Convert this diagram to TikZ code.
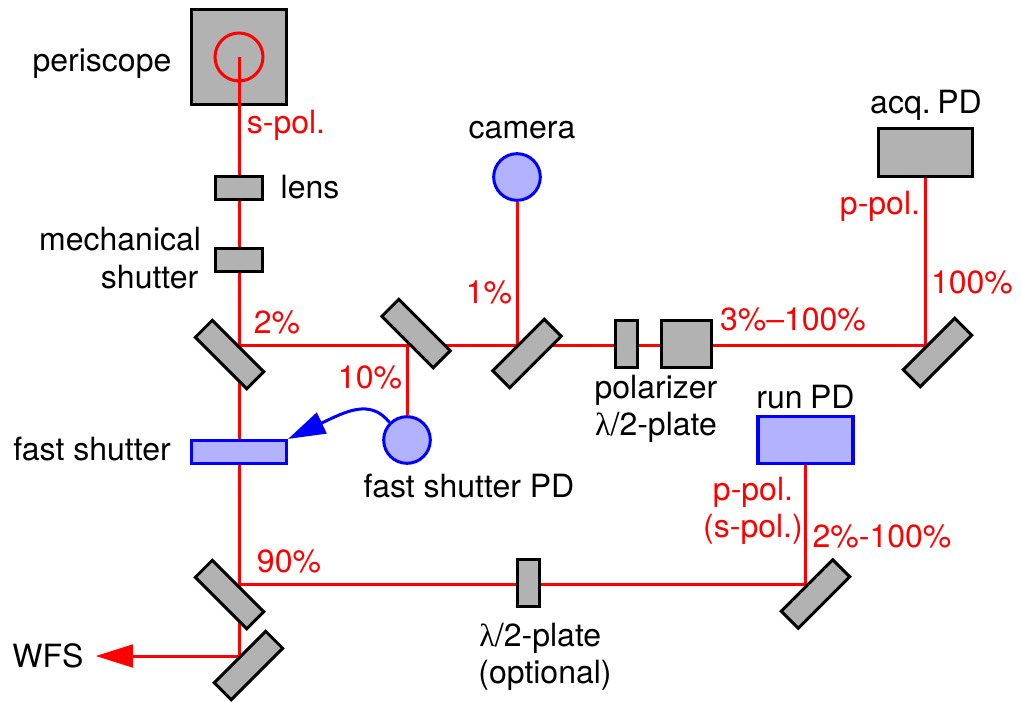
\documentclass[tikz,border=0pt]{standalone}
\usepackage{fontspec}
\setmainfont{TeX Gyre Heros}
\newfontfamily\lambdafont{Liberation Serif}
\usetikzlibrary{positioning,arrows.meta,backgrounds}

\definecolor{opticgray}{HTML}{B2B2B2}
\definecolor{pdblue}{HTML}{B2B2FF}
\newcommand{\halfwave}{{\lambdafont λ}/2-plate}

\begin{document}
\begin{tikzpicture}[
    x=0.75pt,
    y=-0.75pt,
    line width=2.25pt,
    optic/.style={
        draw=black,
        fill=opticgray,
        rectangle,
        inner sep=0pt
    },
    mirrordown/.style={optic, minimum width=54.5pt, minimum height=18pt, rotate=-45},
    mirrorup/.style={optic, minimum width=54.5pt, minimum height=18pt, rotate=45},
    smallplate/.style={optic, minimum width=35.5pt, minimum height=17pt},
    waveplate/.style={optic, minimum width=16.5pt, minimum height=35.5pt},
    bigbox/.style={optic, minimum width=71pt, minimum height=35.5pt},
    activebox/.style={
        draw=blue,
        fill=pdblue,
        rectangle,
        line width=2.6pt,
        inner sep=0pt
    },
    activedisc/.style={
        activebox,
        circle,
        line width=2.25pt,
        minimum size=35pt
    },
    beam/.style={draw=red, line width=2.25pt},
    beamarrow/.style={beam, -{Triangle[length=28pt, width=17pt]}},
    lbl/.style={
        align=center,
        inner sep=0pt,
        font=\fontsize{24}{28}\selectfont
    },
    pct/.style={lbl, text=red}
]

\node (periscope) [optic, minimum size=71pt] at (239,57) {};
\node (lens) [smallplate] at (239,188) {};
\node (mechshutter) [smallplate] at (239,260) {};
\node (mirrorone) [mirrordown] at (229.5,354.5) {};
\node (mirrortwo) [mirrordown] at (416,333.5) {};
\node (mirrorthree) [mirrorup] at (527,353.5) {};
\node (halfplate) [waveplate] at (626.5,344) {};
\node (polarizer) [optic, minimum width=37pt, minimum height=35.5pt] at (686.5,344) {};
\node (mirrorfour) [mirrorup] at (937.5,352.5) {};
\node (acqpd) [bigbox] at (925.5,152.5) {};
\node (camera) [activedisc] at (517,177) {};
\node (fastshutter) [activebox, minimum width=71pt, minimum height=17pt] at (239,452) {};
\node (fastpd) [activedisc] at (407,440) {};
\node (runpd) [activebox, minimum width=71pt, minimum height=35.5pt] at (805.5,440) {};
\node (mirrorfive) [mirrordown] at (229.5,594.5) {};
\node (mirrorsix) [mirrorup] at (248.5,665.5) {};
\node (mirrorseven) [mirrorup] at (815.5,594) {};
\node (bottomplate) [waveplate] at (528.5,583) {};

\coordinate (hitone) at (239,345);
\coordinate (hittwo) at (407,345);
\coordinate (hitthree) at (517,345);
\coordinate (hitfour) at (925.5,345);
\coordinate (hitfive) at (239,584);
\coordinate (hitsix) at (239,656);
\coordinate (hitseven) at (805.5,584);

\node (periscopelabel) [lbl] at (102,64) {periscope};
\node (lenslabel) [lbl] at (310,187) {lens};
\node (shutterlabel) [lbl, align=right, anchor=east] at (202.5,258) {mechanical\\shutter\hspace*{2pt}};
\node (fastlabel) [lbl] at (92,449) {fast shutter};
\node (fastpdlabel) [lbl] at (469,486) {fast shutter PD};
\node (cameralabel) [lbl] at (522,130) {camera};
\node (polarizerlabel) [lbl] at (656,409) {polarizer\\\halfwave};
\node (acqlabel) [lbl] at (926,105) {acq.\hspace{5pt}PD};
\node (runlabel) [lbl] at (805.5,397) {run\hspace{5.5pt}PD};
\node (bottomlabel) [lbl] at (545,657) {\halfwave\hspace*{7pt}\\(optional)};
\node (wfs) [lbl] at (48,656) {WFS};

\node (spol) [pct] at (286,125) {s-pol.};
\node (twopct) [pct] at (277,322) {2\%};
\node (tenpct) [pct] at (370,377) {10\%};
\node (onepct) [pct] at (489,292) {1\%};
\node (rangepct) [pct] at (793,319) {3\%--100\%};
\node (ppol) [pct] at (880,206) {p-pol.};
\node (hundredpct) [pct] at (972,282) {100\%};
\node (runpol) [pct] at (753,511) {p-pol.\\(s-pol.)};
\node (runpct) [pct] at (882,536) {2\%-100\%};
\node (ninetypct) [pct] at (289,561) {90\%};

\draw[beam] (periscope.center) circle (24);
\draw[beam] (periscope.center) -- (lens);

\begin{scope}[on background layer]
\draw[beam] (lens) -- (mechshutter);
\draw[beam] (mechshutter) -- (hitone);
\draw[beam] (hitone) -- (hitfour);
\draw[beam] (hitone) -- (fastshutter);
\draw[beam] (fastshutter) -- (hitfive);
\draw[beam] (hitfive) -- (hitsix);
\draw[beam] (hitfive) -- (hitseven);
\draw[beam] (hittwo) -- (fastpd);
\draw[beam] (hitthree) -- (camera);
\draw[beam] (hitfour) -- (acqpd);
\draw[beam] (hitseven) -- (runpd);
\draw[beamarrow, shorten >=8pt] (hitsix) -- (wfs);
\end{scope}

\draw[blue, -{Triangle[length=28pt, width=17pt]}]
    (fastpd.135) .. controls (370,398) and (345,412) .. (fastshutter.north east);

\useasboundingbox (0,0) rectangle (1021,701);
\end{tikzpicture}
\end{document}
